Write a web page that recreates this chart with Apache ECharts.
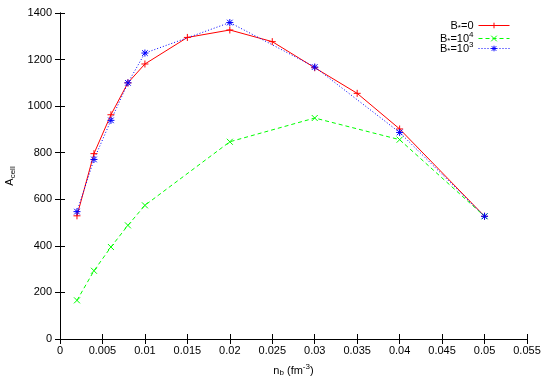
<!DOCTYPE html>
<html><head><meta charset="utf-8">
<script src="https://cdn.jsdelivr.net/npm/echarts@6/dist/echarts.min.js"></script>
<style>html,body{margin:0;padding:0;background:#fff}#c{width:545px;height:382px}</style>
</head><body><div id="c"></div>
<script>
const xRed = [0.002,0.004,0.006,0.008,0.01,0.015,0.02,0.025,0.03,0.035,0.04,0.05];
const yRed = [529,796,963,1100,1181,1295,1327,1277,1165,1055,902,527];
const xGreen = [0.002,0.004,0.006,0.008,0.01,0.02,0.03,0.04,0.05];
const yGreen = [166,293,395,488,574,847,949,856,527];
const xBlue = [0.002,0.004,0.006,0.008,0.01,0.02,0.03,0.04,0.05];
const yBlue = [547,771,939,1100,1228,1359,1168,887,527];
const seriesNames = ['B*=0','B*=10^4','B*=10^3'];
const legendRich = [
  '{b|B}{s|*}{b|=0}',
  '{b|B}{s|*}{b|=10}{p|4}',
  '{b|B}{s|*}{b|=10}{p|3}'
];
const colors = ['#ff0000', '#00ff00', '#0000ff'];

const FONT = 'Liberation Sans, Arial, sans-serif';
const zip = (xs, ys) => xs.map((x, i) => [x, ys[i]]);
const PLUS = 'path://M0,5L10,5M5,0L5,10';
const CROSS = 'path://M0,0L10,10M0,10L10,0';
const STAR = 'path://M0,5L10,5M5,0L5,10M1,1L9,9M1,9L9,1';

const chart = echarts.init(document.getElementById('c'), null, {renderer: 'canvas'});
const axisCommon = {
  axisLine: {show: true, lineStyle: {color: '#000', width: 1}},
  axisTick: {show: true, inside: true, length: 5, lineStyle: {color: '#000'}},
  splitLine: {show: false},
  axisLabel: {color: '#000', fontSize: 11, fontFamily: FONT}
};
function mkSeries(name, data, color, type, symbol, size) {
  return {
    name, type: 'line', data, symbol, symbolSize: size, showSymbol: true,
    lineStyle: {color, width: 1, type},
    itemStyle: {color: 'rgba(0,0,0,0)', borderColor: color, borderWidth: 1},
    emphasis: {disabled: true}, z: 3
  };
}
const rich = {
  b: {fontSize: 11, fontFamily: FONT, color: '#000'},
  s: {fontSize: 8, fontFamily: FONT, color: '#000', padding: [5, 0, 0, 0]},
  p: {fontSize: 8, fontFamily: FONT, color: '#000', padding: [0, 0, 7, 0]}
};
const legendTops = [15, 26, 36];
const legends = seriesNames.map((n, i) => ({
  orient: 'vertical', right: 30, top: legendTops[i], align: 'right',
  itemWidth: 31, itemHeight: 7, itemGap: 0,
  data: [{name: n}],
  formatter: () => legendRich[i],
  lineStyle: {width: 1},
  itemStyle: {color: 'rgba(0,0,0,0)', borderColor: colors[i], borderWidth: 1},
  textStyle: {rich, fontSize: 11, fontFamily: FONT, color: '#000'}
}));
chart.setOption({
  animation: false,
  backgroundColor: '#fff',
  grid: {left: 60, right: 18, top: 13, bottom: 43, containLabel: false, outerBoundsMode: 'none'},
  legend: legends,
  xAxis: [
    Object.assign({}, axisCommon, {
      type: 'value', min: 0, max: 0.055, interval: 0.005, position: 'bottom',
      axisLabel: Object.assign({}, axisCommon.axisLabel, {margin: 6, formatter: v => String(+v.toFixed(3))}),
      name: '{b|n}{s|b}{b| (fm}{p|-3}{b|)}', nameLocation: 'middle', nameGap: 24,
      nameTextStyle: {rich}
    }),
    Object.assign({}, axisCommon, {
      type: 'value', min: 0, max: 0.055, interval: 0.005, position: 'top',
      axisLabel: {show: false}
    })
  ],
  yAxis: [
    Object.assign({}, axisCommon, {
      type: 'value', min: 0, max: 1400, interval: 200, position: 'left',
      axisLabel: Object.assign({}, axisCommon.axisLabel, {margin: 8, formatter: v => String(v)}),
      name: '{b|A}{s|cell}', nameLocation: 'middle', nameGap: 37, nameRotate: 90,
      nameTextStyle: {rich}
    }),
    Object.assign({}, axisCommon, {
      type: 'value', min: 0, max: 1400, interval: 200, position: 'right',
      axisLabel: {show: false}
    })
  ],
  series: [
    mkSeries(seriesNames[0], zip(xRed, yRed), colors[0], 'solid', PLUS, 7),
    mkSeries(seriesNames[1], zip(xGreen, yGreen), colors[1], [4, 3], CROSS, 6),
    mkSeries(seriesNames[2], zip(xBlue, yBlue), colors[2], [1, 2], STAR, 7)
  ]
});
</script></body></html>
